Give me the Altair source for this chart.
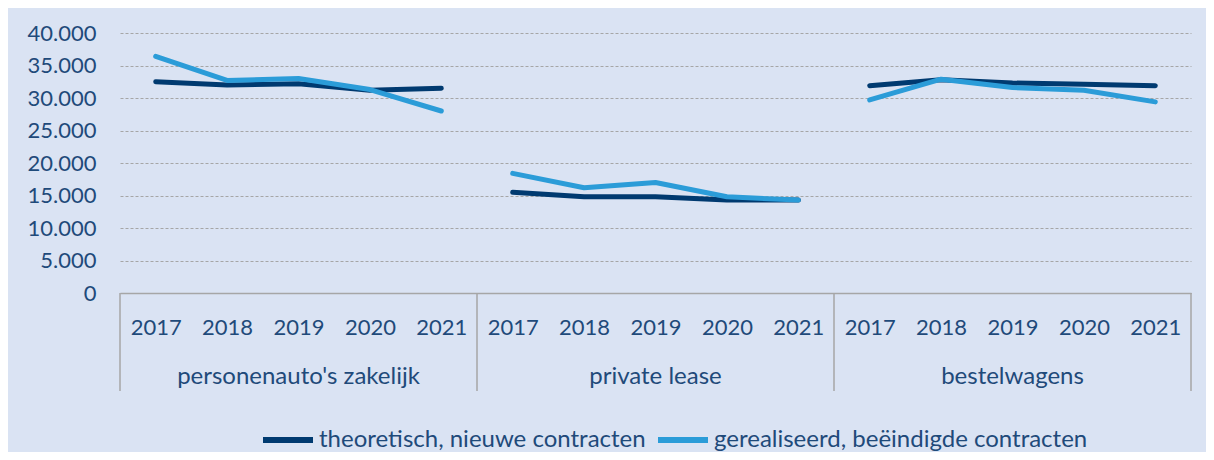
import altair as alt
import pandas as pd

groups = ["personenauto's zakelijk", "private lease", "bestelwagens"]
years = ["2017", "2018", "2019", "2020", "2021"]
series = ["theoretisch, nieuwe contracten", "gerealiseerd, beëindigde contracten"]

theo_zakelijk = [32500, 32000, 32200, 31200, 31500]
theo_private = [15500, 14800, 14800, 14300, 14300]
theo_bestel = [31900, 32800, 32300, 32100, 31900]

real_zakelijk = [36400, 32700, 33000, 31300, 28000]
real_private = [18400, 16200, 17000, 14800, 14300]
real_bestel = [29700, 32900, 31600, 31200, 29400]

y_ticks = [0, 5000, 10000, 15000, 20000, 25000, 30000, 35000, 40000]

TEXT = "#1F4A7A"
DARK = "#003A70"
LIGHT = "#2B9CD8"
BG = "#DAE3F3"
GRID = "#A6A6A6"
FONT = "Lato"
FS = 22
FS2 = 24

values = {
    series[0]: [theo_zakelijk, theo_private, theo_bestel],
    series[1]: [real_zakelijk, real_private, real_bestel],
}
rows = []
for s in series:
    for gi, g in enumerate(groups):
        for yi, yr in enumerate(years):
            rows.append({"series": s, "group": g, "year": yr,
                         "key": f"{g}|{yr}", "value": values[s][gi][yi]})
df = pd.DataFrame(rows)
key_order = [f"{g}|{yr}" for g in groups for yr in years]

gdf = pd.DataFrame({"group": groups, "gi": list(range(len(groups)))})
gdf["mid"] = gdf["gi"] + 0.5
bdf = pd.DataFrame({"b": list(range(len(groups) + 1))})

W, H = 1071, 260

lines = alt.Chart(df).mark_line(strokeWidth=5, strokeCap="round", strokeJoin="round").encode(
    x=alt.X("key:N", sort=key_order, title=None,
            scale=alt.Scale(type="point", padding=0.5),
            axis=alt.Axis(labelExpr="split(datum.label, '|')[1]", labelAngle=0,
                          ticks=False, domain=True, domainColor=GRID, domainWidth=1.5,
                          labelFont=FONT, labelFontSize=FS, labelColor=TEXT,
                          labelPadding=34, labelBaseline="middle", grid=False)),
    y=alt.Y("value:Q", title=None,
            scale=alt.Scale(domain=[0, 40000], nice=False),
            axis=alt.Axis(values=y_ticks, domain=False, ticks=False,
                          labelExpr="datum.value == 0 ? '0' : replace(format(datum.value, ','), ',', '.')",
                          labelFont=FONT, labelFontSize=FS, labelColor=TEXT, labelPadding=24,
                          grid=True, gridColor=GRID, gridDash=[3, 2], gridWidth=1)),
    color=alt.Color("series:N", sort=series, title=None,
                    scale=alt.Scale(domain=series, range=[DARK, LIGHT]),
                    legend=alt.Legend(orient="none", direction="horizontal",
                                      legendX=140, legendY=379,
                                      symbolType="stroke", symbolStrokeWidth=6,
                                      symbolSize=2500, labelFont=FONT, labelFontSize=FS2,
                                      labelColor=TEXT, labelOffset=3, columnPadding=0,
                                      labelLimit=500)),
    detail="group:N",
    order=alt.Order("year:N"),
)

seps = alt.Chart(bdf).mark_rule(color=GRID, strokeWidth=1.5).encode(
    x=alt.X("b:Q", scale=alt.Scale(domain=[0, 3], nice=False), axis=None),
    y=alt.value(H),
    y2=alt.value(H + 98),
)

glabels = alt.Chart(gdf).mark_text(font=FONT, fontSize=FS2, color=TEXT, baseline="middle").encode(
    x=alt.X("mid:Q", scale=alt.Scale(domain=[0, 3], nice=False), axis=None),
    y=alt.value(H + 84),
    text="group:N",
)

chart = alt.layer(seps, glabels, lines).resolve_scale(x="independent").properties(
    width=W, height=H,
    background=BG,
    padding={"left": 112, "top": 25, "right": 15, "bottom": 159},
    autosize=alt.AutoSizeParams(type="none"),
).configure_view(stroke=None)

chart.save("out.html", embed_options={"renderer": "svg", "actions": False})
